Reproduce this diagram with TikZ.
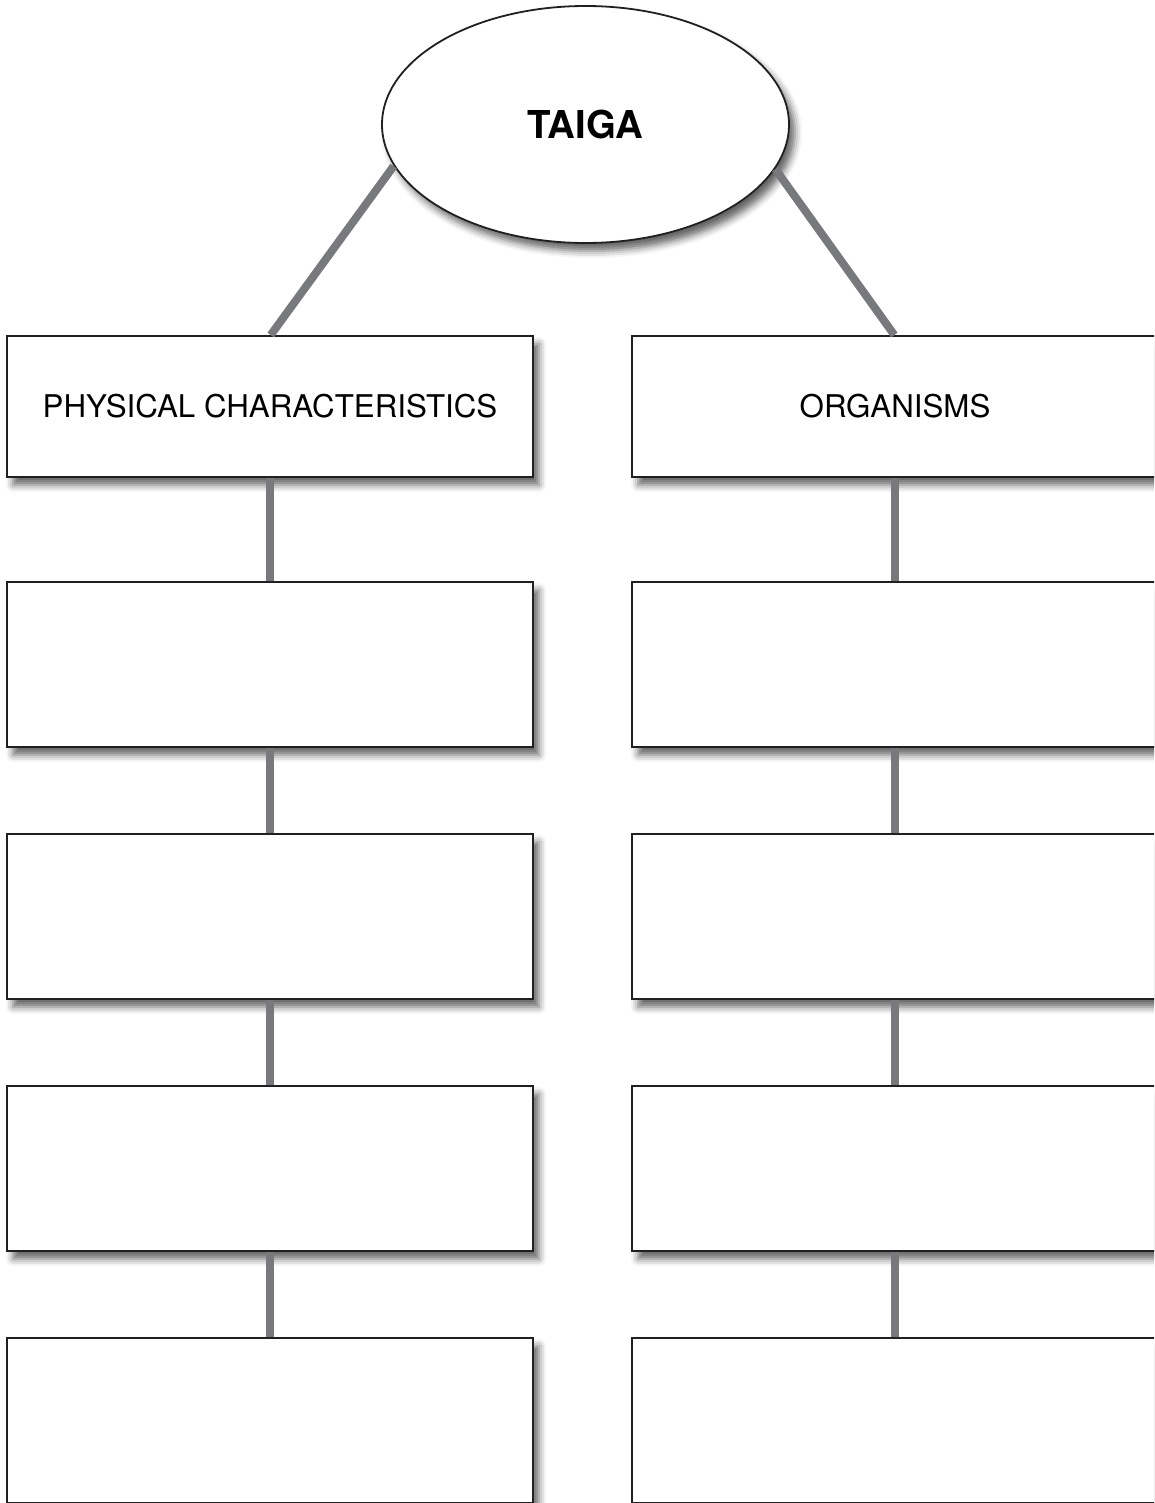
\documentclass[tikz,border=0pt]{standalone}
\usepackage{fontspec}
\setmainfont{TeX Gyre Heros}
\usetikzlibrary{positioning,shapes.geometric,shadows.blur}
\definecolor{ink}{RGB}{35,31,32}
\definecolor{linkgray}{RGB}{120,121,124}

\begin{document}
\begin{tikzpicture}[x=1pt, y=-1pt,
  soft/.style={blur shadow={shadow xshift=6pt, shadow yshift=-8pt,
    shadow blur radius=7pt, shadow opacity=60}},
  hub/.style={ellipse, draw=ink, line width=1.8pt, fill=white, soft,
    minimum width=407pt, minimum height=237pt, inner sep=0pt, outer sep=0pt,
    font=\fontsize{38.4}{44}\selectfont\bfseries},
  slot/.style={rectangle, draw=ink, line width=2.4pt, fill=white, soft,
    minimum width=526pt, minimum height=165pt, inner sep=0pt, outer sep=0pt,
    font=\fontsize{31.3}{36}\selectfont},
  cat/.style={slot, minimum height=141pt},
  e/.style={draw=linkgray, line width=8pt, shorten <=1.2pt, shorten >=1.2pt},
]
\useasboundingbox (0,0) rectangle (1154,1503);
\clip (0,0) rectangle (1154,1503);
% top
\node[hub] (taiga) at (585.5,124.5) {TAIGA};
% category row
\node[cat] (phys) at (270,406.5) {PHYSICAL CHARACTERISTICS};
\node[cat, right=99pt of phys] (org) {ORGANISMS};
% left column
\node[slot, below=105pt of phys] (p1) {};
\node[slot, below=87pt of p1] (p2) {};
\node[slot, below=87pt of p2] (p3) {};
\node[slot, below=87pt of p3] (p4) {};
% right column
\node[slot, below=105pt of org] (o1) {};
\node[slot, below=87pt of o1] (o2) {};
\node[slot, below=87pt of o2] (o3) {};
\node[slot, below=87pt of o3] (o4) {};
% links from the hub
\draw[e] (taiga.192) -- (phys.north);
\draw[e] (taiga.347) -- (org.north);
% column links
\draw[e] (phys) -- (p1); \draw[e] (p1) -- (p2);
\draw[e] (p2) -- (p3); \draw[e] (p3) -- (p4);
\draw[e] (org) -- (o1); \draw[e] (o1) -- (o2);
\draw[e] (o2) -- (o3); \draw[e] (o3) -- (o4);
\end{tikzpicture}
\end{document}
